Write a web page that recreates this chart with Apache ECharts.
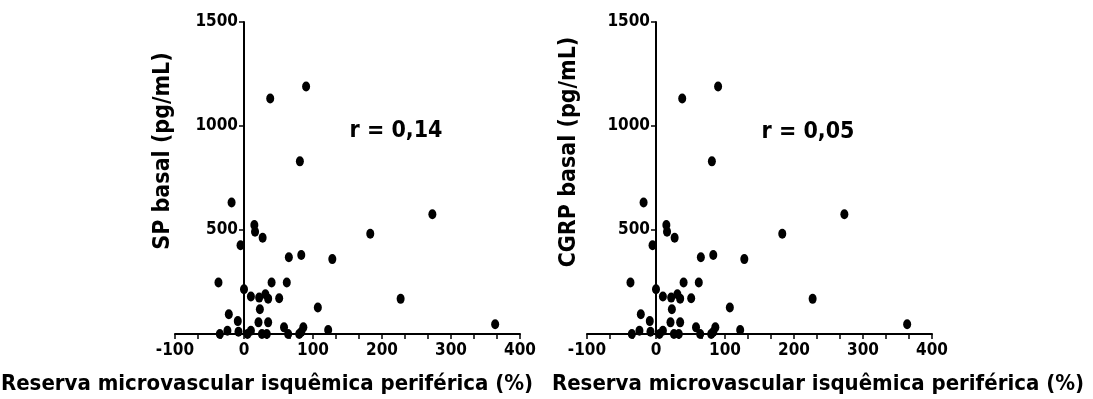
<!DOCTYPE html>
<html>
<head>
<meta charset="utf-8">
<script src="https://cdn.jsdelivr.net/npm/echarts@6/dist/echarts.min.js"></script>
<style>
html,body{margin:0;padding:0;background:#fff;}
#chart{width:1093px;height:399px;}
</style>
</head>
<body>
<div id="chart"></div>
<script>
// Data
var reservaSP = [-18, 273, 15, 16, 27, -5, 183, 65, 83, 128, -37, 40, 62, 0, 10, 22, 31, 35, 51, 23, 107, 227, -22, -9, 21, 35, -35, -24, -8, 5, 10, 26, 33, 58, 64, 80, 86, 122, 364, 38, 90, 81, 83];
var spBasal   = [632, 576, 524, 492, 463, 427, 482, 369, 380, 360, 248, 248, 248, 215, 180, 175, 191, 170, 172, 119, 127, 169, 95, 62, 56, 56, 0, 16, 11, 0, 16, 0, 0, 32, 0, 0, 32, 19, 47, 1132, 1190, 830, 10];
var reservaCGRP = [-18, 273, 15, 16, 27, -5, 183, 65, 83, 128, -37, 40, 62, 0, 10, 22, 31, 35, 51, 23, 107, 227, -22, -9, 21, 35, -35, -24, -8, 5, 10, 26, 33, 58, 64, 80, 86, 122, 364, 38, 90, 81, 83];
var cgrpBasal   = [632, 576, 524, 492, 463, 427, 482, 369, 380, 360, 248, 248, 248, 215, 180, 175, 191, 170, 172, 119, 127, 169, 95, 62, 56, 56, 0, 16, 11, 0, 16, 0, 0, 32, 0, 0, 32, 19, 47, 1132, 1190, 830, 10];
var xTicks = [-100, 0, 100, 200, 300, 400];
var yTicks = [500, 1000, 1500];
var xTitle = 'Reserva microvascular isquêmica periférica (%)';
var yTitles = ['SP basal (pg/mL)', 'CGRP basal (pg/mL)'];
var rTexts = ['r = 0,14', 'r = 0,05'];

function pairs(xs, ys){ return xs.map(function(v,i){ return [v, ys[i]]; }); }

var FONT = '"DejaVu Sans Condensed", "Liberation Sans Narrow", sans-serif';
var lineStyle = {color:'#000', width:2};
var GRID_W = 345;

function xAxisDef(i){
  return {
    type:'value', gridIndex:i, min:xTicks[0], max:xTicks[xTicks.length-1], interval:100,
    axisLine:{show:true, onZero:false, lineStyle:lineStyle},
    axisTick:{show:true, length:5, lineStyle:{color:'#000', width:1.5}},
    minorTick:{show:true, splitNumber:3, length:5, lineStyle:{color:'#000', width:1.5}},
    splitLine:{show:false},
    axisLabel:{color:'#000', fontFamily:FONT, fontWeight:'bold', fontSize:17, margin:8}
  };
}
function yAxisDef(i){
  // y axis drawn at x = 0 of the x scale: shift from the grid's left edge
  var shift = (0 - xTicks[0]) / (xTicks[xTicks.length-1] - xTicks[0]) * GRID_W;
  return {
    type:'value', gridIndex:i, min:0, max:yTicks[yTicks.length-1], interval:500,
    position:'left', offset:-shift,
    axisLine:{show:true, onZero:false, lineStyle:lineStyle},
    axisTick:{show:true, length:5, lineStyle:{color:'#000', width:1.5}},
    splitLine:{show:false},
    axisLabel:{color:'#000', fontFamily:FONT, fontWeight:'bold', fontSize:17, margin:6,
      formatter:function(v){ return yTicks.indexOf(v) >= 0 ? String(v) : ''; }}
  };
}
function txt(x, y, s, size, rot){
  return {type:'text', x:x, y:y, rotation: rot || 0,
    style:{text:s, fill:'#000', font:'bold ' + size + 'px ' + FONT, align:'center', verticalAlign:'middle'}};
}

var chart = echarts.init(document.getElementById('chart'));
chart.setOption({
  animation:false,
  backgroundColor:'#fff',
  grid:[
    {left:175, top:22, width:GRID_W, height:312},
    {left:587, top:22, width:GRID_W, height:312}
  ],
  xAxis:[xAxisDef(0), xAxisDef(1)],
  yAxis:[yAxisDef(0), yAxisDef(1)],
  series:[
    {type:'scatter', xAxisIndex:0, yAxisIndex:0, data:pairs(reservaSP, spBasal), symbol:'circle', symbolSize:[8,10], itemStyle:{color:'#000', opacity:1}},
    {type:'scatter', xAxisIndex:1, yAxisIndex:1, data:pairs(reservaCGRP, cgrpBasal), symbol:'circle', symbolSize:[8,10], itemStyle:{color:'#000', opacity:1}}
  ],
  graphic:[
    txt(267, 384, xTitle, 22),
    txt(818, 384, xTitle, 22),
    txt(163, 151, yTitles[0], 23, Math.PI/2),
    txt(569, 152, yTitles[1], 23, Math.PI/2),
    txt(396, 131, rTexts[0], 23),
    txt(808, 132, rTexts[1], 23)
  ]
});
</script>
</body>
</html>
